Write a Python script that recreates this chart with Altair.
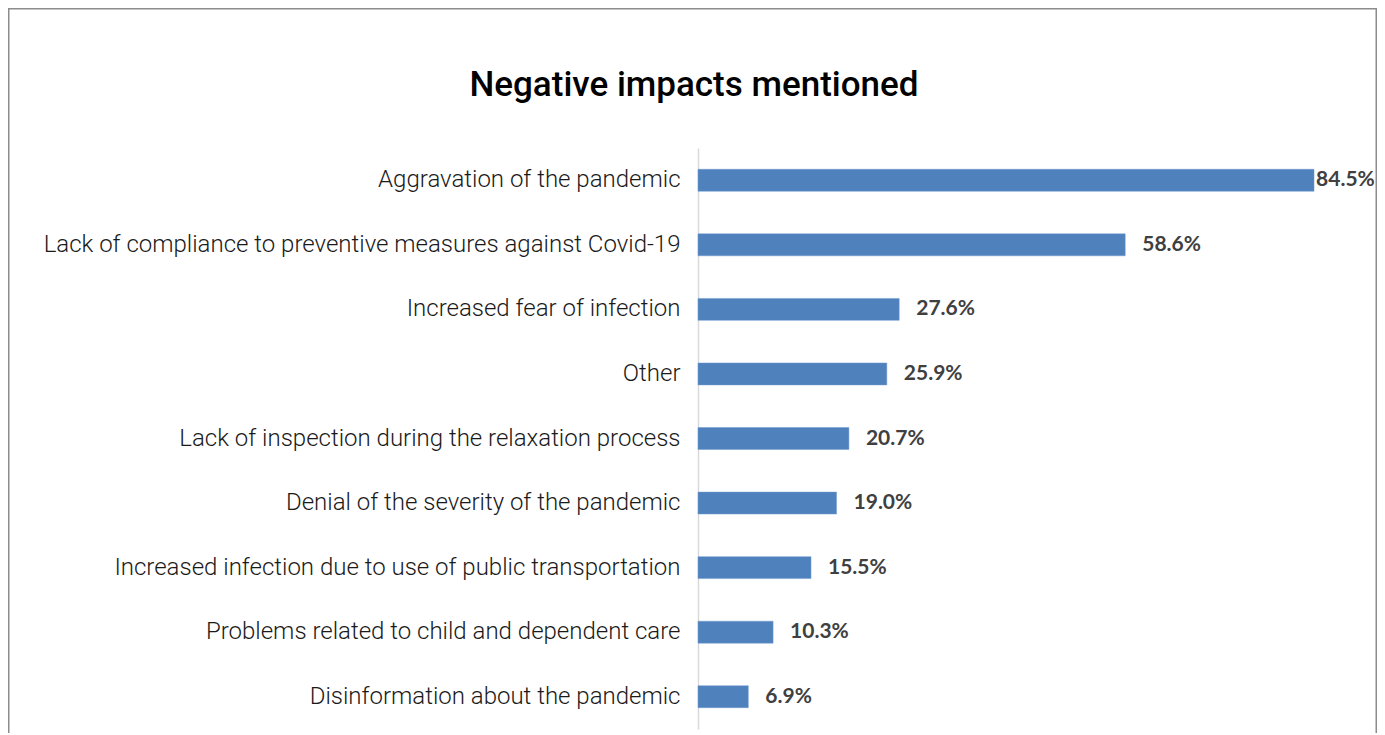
import altair as alt
import pandas as pd

categories = [
    "Aggravation of the pandemic",
    "Lack of compliance to preventive measures against Covid-19",
    "Increased fear of infection",
    "Other",
    "Lack of inspection during the relaxation process",
    "Denial of the severity of the pandemic",
    "Increased infection due to use of public transportation",
    "Problems related to child and dependent care",
    "Disinformation about the pandemic",
]
values = [84.5, 58.6, 27.6, 25.9, 20.7, 19.0, 15.5, 10.3, 6.9]
value_labels = ["84.5%", "58.6%", "27.6%", "25.9%", "20.7%", "19.0%", "15.5%", "10.3%", "6.9%"]

df = pd.DataFrame({"category": categories, "value": values, "label": value_labels})

W, H = 678, 581
PAD_L, PAD_T, PAD_R, PAD_B = 690, 140, 1, 4

y_enc = alt.Y("category:N", sort=categories, title=None,
              scale=alt.Scale(paddingInner=0.66, paddingOuter=0.33),
              axis=alt.Axis(ticks=False, grid=False, domain=True, domainColor="#d9d9d9",
                            domainWidth=1.5, labelFont="Roboto", labelFontWeight=300,
                            labelFontSize=24, labelColor="#1a1a1a", labelPadding=18,
                            labelLimit=900))
x_enc = alt.X("value:Q", title=None, scale=alt.Scale(domain=[0, 93], nice=False),
              axis=None)

base = alt.Chart(df)

bars = base.mark_bar(color="#4f81bd", stroke="#6f9bd0", strokeWidth=0.5).encode(x=x_enc, y=y_enc)

text_common = dict(align="left", baseline="middle", font="Lato", fontWeight="bold",
                   fontSize=21, color="#404040")
labels_far = base.transform_filter("datum.value < 80").mark_text(dx=17, **text_common).encode(
    x=x_enc, y=y_enc, text="label:N")
labels_near = base.transform_filter("datum.value >= 80").mark_text(dx=2, **text_common).encode(
    x=x_enc, y=y_enc, text="label:N")

frame = alt.Chart(pd.DataFrame({"k": [0]})).mark_rect(
    fill=None, stroke="#8c8c8c", strokeWidth=1.5).encode(
    x=alt.value(-PAD_L + 0.75), x2=alt.value(W + PAD_R - 0.75),
    y=alt.value(-PAD_T + 0.75), y2=alt.value(H + 40))

chart = alt.layer(bars, labels_far, labels_near, frame).properties(
    width=W, height=H,
    padding={"left": PAD_L, "top": PAD_T, "right": PAD_R, "bottom": PAD_B},
    autosize=alt.AutoSizeParams(type="none"),
    background="white",
    title=alt.TitleParams("Negative impacts mentioned", font="Roboto", fontWeight=500,
                          fontSize=35, color="#000000", anchor="middle", dx=-343,
                          frame="group", offset=-95),
).configure_view(strokeWidth=0, stroke="transparent")

chart.save("out.html", embed_options={"renderer": "svg", "actions": False})
